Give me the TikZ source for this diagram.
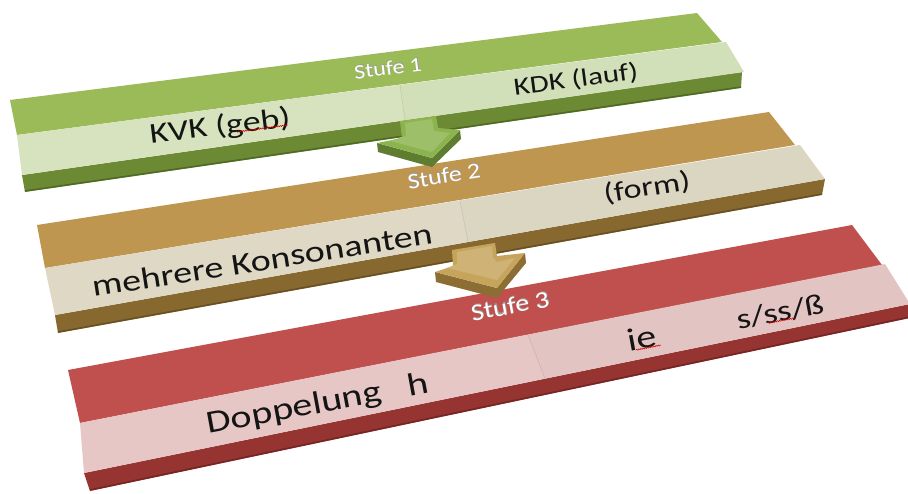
\documentclass[tikz,border=0pt]{standalone}
\usepackage{fontspec}
\usetikzlibrary{decorations.pathmorphing}
\setmainfont{Carlito}
\definecolor{gHead}{RGB}{155,187,89}
\definecolor{gLightA}{RGB}{215,227,190}
\definecolor{gLightB}{RGB}{210,224,186}
\definecolor{gFront}{RGB}{108,138,52}
\definecolor{gFrontD}{RGB}{80,105,38}
\definecolor{gArrTop}{RGB}{140,180,78}
\definecolor{gArrSide}{RGB}{95,125,48}
\definecolor{tHead}{RGB}{190,150,80}
\definecolor{tLightA}{RGB}{222,216,196}
\definecolor{tLightB}{RGB}{218,214,194}
\definecolor{tFront}{RGB}{135,105,48}
\definecolor{tFrontD}{RGB}{105,80,35}
\definecolor{tArrTop}{RGB}{198,164,92}
\definecolor{tArrSide}{RGB}{140,110,52}
\definecolor{rHead}{RGB}{192,80,77}
\definecolor{rLightA}{RGB}{230,199,197}
\definecolor{rLightB}{RGB}{226,196,194}
\definecolor{rFront}{RGB}{150,52,50}
\definecolor{rFrontD}{RGB}{115,38,36}
\definecolor{txt}{RGB}{20,20,20}
\newcommand\facetext[6]{%
  \begin{scope}[shift={(#2,#3)}, rotate=#4, yscale=0.8]
    \node[lbl, font=\fontsize{#5}{#5}\selectfont] (#1) at (0,0) {#6};
  \end{scope}}
\begin{document}
\begin{tikzpicture}[x=1pt,y=-1pt,
  lbl/.style={inner sep=0pt, text=txt, transform shape},
  squiggle/.style={red!80!black, line width=0.5pt, decorate,
    decoration={snake, amplitude=0.6pt, segment length=2.2pt}}]
\useasboundingbox (0,0) rectangle (908,493);

% ---------- Band 3 (red) ----------
\fill[rHead] (68,370) -- (852,225) -- (882,265) -- (80,423) -- cycle;
\fill[rFront] (84,473) -- (910,304) -- (910,318) -- (90,491) -- cycle;
\draw[rFrontD, line width=1.5pt] (90,490) -- (910,317);
\fill[rLightA] (80,423) -- (528,334.5) -- (545,378.7) -- (84,473) -- cycle;
\fill[rLightB] (528,334.5) -- (885,264) -- (910,304) -- (545,378.7) -- cycle;
\draw[rLightA!85!black, line width=0.4pt] (528,334.5) -- (545,378.7);

% ---------- Band 2 (tan) ----------
\fill[tHead] (37,225) -- (769,112) -- (795,145) -- (45,268) -- cycle;
\fill[tFront] (55,315) -- (825,179) -- (822,195) -- (58,333) -- cycle;
\draw[tFrontD, line width=1.5pt] (58,332) -- (822,194);
\fill[tLightA] (45,268) -- (460,200.4) -- (468,242) -- (55,315) -- cycle;
\fill[tLightB] (460,200.4) -- (800,145) -- (825,179) -- (468,242) -- cycle;
\draw[tLightA!85!black, line width=0.4pt] (460,200.4) -- (468,242);

% ---------- Arrow 2 (tan) ----------
\fill[tArrSide] (435,272) -- (436,282) -- (497,298) -- (526,263) -- (525,253) -- (497,288) -- cycle;
\fill[tArrTop] (452,250) -- (495,243) -- (497,256) -- (525,253) -- (497,288) -- (435,272) -- (453,266) -- cycle;
\fill[tArrTop!85!white] (457,252) -- (492,246) -- (493,258) -- (497,262) -- (515,258) -- (497,280) -- (447,268) -- (457,264) -- cycle;

% ---------- Band 1 (green) ----------
\fill[gHead] (10,100) -- (697,13) -- (722,42) -- (17,135) -- cycle;
\fill[gFront] (22,175) -- (742,72) -- (741,88) -- (25,192) -- cycle;
\draw[gFrontD, line width=1.5pt] (25,191) -- (741,87);
\fill[gLightA] (17,135) -- (400,84.8) -- (405,120.3) -- (22,175) -- cycle;
\fill[gLightB] (400,84.8) -- (726,42) -- (744,72) -- (405,120.3) -- cycle;
\draw[gLightA!85!black, line width=0.4pt] (400,84.8) -- (405,120.3);

% ---------- Arrow 1 (green) ----------
\fill[gArrSide] (377,143) -- (378,152) -- (432,167) -- (461,139) -- (460,130) -- (432,158) -- cycle;
\fill[gArrTop] (400,121) -- (436,116) -- (438,128) -- (460,130) -- (432,158) -- (377,143) -- (402,138) -- cycle;
\fill[gArrTop!85!white] (405,123) -- (432,119) -- (434,131) -- (450,133) -- (432,152) -- (390,141) -- (406,136) -- cycle;

% ---------- Stufe labels (white with shadow) ----------
\begin{scope}[shift={(388,68)}, rotate=7.2, yscale=0.85]
  \node[lbl, text=black!40, font=\fontsize{24}{24}\selectfont] (s1sh) at (0.8,-1.2) {Stufe 1};
  \node[lbl, text=white, font=\fontsize{24}{24}\selectfont] (s1) at (0,0) {Stufe 1};
\end{scope}
\begin{scope}[shift={(444,176)}, rotate=8.8, yscale=0.85]
  \node[lbl, text=black!40, font=\fontsize{26}{26}\selectfont] (s2sh) at (0.8,-1.2) {Stufe 2};
  \node[lbl, text=white, font=\fontsize{26}{26}\selectfont] (s2) at (0,0) {Stufe 2};
\end{scope}
\begin{scope}[shift={(510,306)}, rotate=10.5, yscale=0.85]
  \node[lbl, text=black!40, font=\fontsize{28}{28}\selectfont] (s3sh) at (0.8,-1.2) {Stufe 3};
  \node[lbl, text=white, font=\fontsize{28}{28}\selectfont] (s3) at (0,0) {Stufe 3};
\end{scope}

% ---------- Item texts ----------
\facetext{kvk}{220}{127}{7}{36}{KVK (geb)}
\facetext{kdk}{576}{80}{7.5}{31}{KDK (lauf)}
\facetext{mk}{262}{260}{8.9}{38}{mehrere Konsonanten}
\facetext{form}{647}{188}{9}{34}{(form)}
\facetext{dop}{318}{405}{10.5}{40}{Doppelung\ \ \ h}
\facetext{ie}{642}{338}{10.5}{40}{ie}
\facetext{sss}{780}{312}{10.5}{36}{s/ss/ß}

% ---------- spell-check squiggles ----------
\draw[squiggle] (236,132) -- (288,125);
\draw[squiggle] (636,350) -- (661,345);
\draw[squiggle] (768,323) -- (795,318);
\end{tikzpicture}
\end{document}
